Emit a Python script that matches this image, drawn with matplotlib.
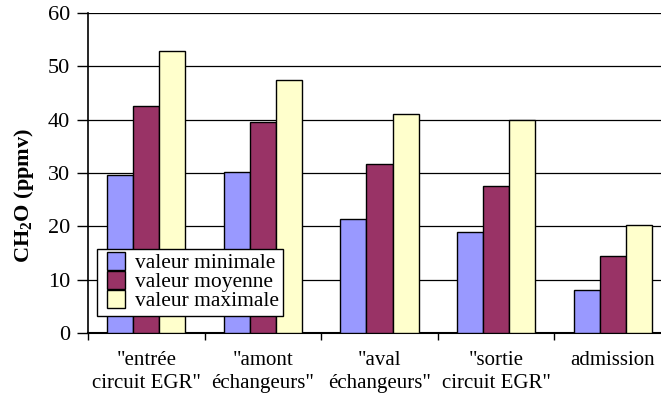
import numpy as np
import matplotlib.pyplot as plt
from matplotlib.lines import Line2D
from matplotlib.ticker import FixedLocator

# CH2O concentrations per sampling point
categories = ['"entrée\ncircuit EGR"', '"amont\néchangeurs"', '"aval\néchangeurs"',
              '"sortie\ncircuit EGR"', 'admission']
val_min = [29.6, 30.1, 21.4, 19.0, 8.0]
val_moy = [42.5, 39.5, 31.6, 27.5, 14.4]
val_max = [52.8, 47.4, 41.1, 39.9, 20.2]

series = [
    ('valeur minimale', val_min, '#9999FF'),
    ('valeur moyenne', val_moy, '#993366'),
    ('valeur maximale', val_max, '#FFFFCC'),
]

plt.rcParams['font.family'] = 'serif'
plt.rcParams['font.serif'] = ['Liberation Serif', 'DejaVu Serif']
plt.rcParams['mathtext.fontset'] = 'custom'
plt.rcParams['mathtext.bf'] = 'Liberation Serif:bold'
plt.rcParams['mathtext.rm'] = 'Liberation Serif'

fig = plt.figure(figsize=(6.61, 3.97), dpi=100)
ax = fig.add_axes([88/661, 64/397, 583/661, 320/397])

x = np.arange(len(categories))
w = 0.223
for i, (name, vals, col) in enumerate(series):
    ax.bar(x + (i - 1) * w, vals, w, color=col, edgecolor='black',
           linewidth=1.0, label=name, zorder=3)

ax.set_xlim(-0.5, len(categories) - 0.5)
ax.set_ylim(0, 60)
ax.set_yticks(np.arange(0, 61, 10))
ax.yaxis.grid(True, color='black', linewidth=0.9, zorder=0)

ax.set_xticks(x)
ax.set_xticklabels(categories, fontsize=15, linespacing=1.3)
ax.xaxis.set_minor_locator(FixedLocator(np.arange(-0.5, len(categories), 1.0)))
ax.tick_params(axis='x', which='major', length=0, pad=13)
ax.tick_params(axis='x', which='minor', length=5, width=1, direction='out')
ax.tick_params(axis='y', length=8, width=1, labelsize=16, pad=5)

for s in ['top', 'right']:
    ax.spines[s].set_visible(False)
ax.spines['left'].set_linewidth(1.2)
ax.spines['bottom'].set_linewidth(1.5)

fig.text(24/661, (397 - 195)/397, r'CH$_\mathbf{2}$O (ppmv)', rotation=90,
         ha='center', va='center', fontsize=16, fontweight='bold')

# square markers as legend keys
handles = [Line2D([], [], marker='s', linestyle='', markersize=12.5,
                  markerfacecolor=col, markeredgecolor='black', markeredgewidth=1.0)
           for _, _, col in series]
labels = [name for name, _, _ in series]
leg = ax.legend(handles, labels, loc='upper left', bbox_to_anchor=(9/583, 84/320),
                fontsize=15.5, frameon=True, fancybox=False, borderpad=0.2,
                labelspacing=-0.05, handlelength=1.4, handletextpad=0.15,
                borderaxespad=0)
leg.get_frame().set_edgecolor('black')
leg.get_frame().set_linewidth(1.0)
leg.get_frame().set_alpha(1)
leg.set_zorder(5)

fig.savefig('out.png', dpi=100)
